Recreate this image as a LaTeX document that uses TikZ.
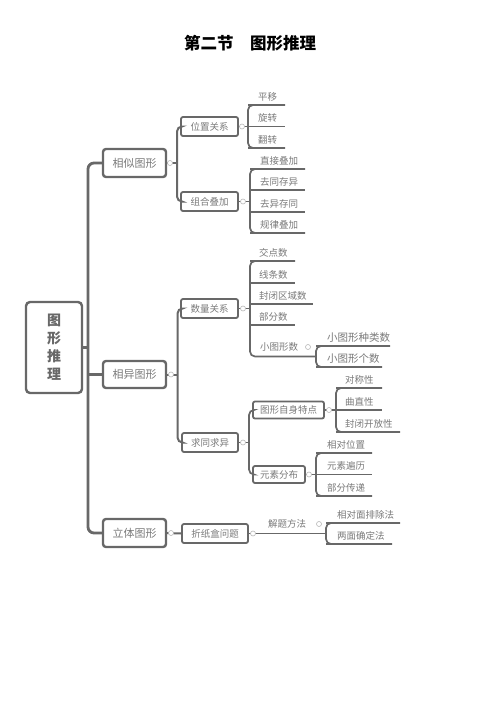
\documentclass[tikz,border=0pt]{standalone}
\usepackage{fontspec}
\setmainfont{Noto Sans CJK SC}
\definecolor{lc}{HTML}{686868}
\definecolor{tc}{HTML}{7A7A7A}
\definecolor{tg}{HTML}{B8B8B8}
\tikzset{
  trunk/.style={draw=lc, line width=2.8pt, rounded corners=6pt},
  br2/.style={draw=lc, line width=2pt, rounded corners=5pt},
  br3/.style={draw=lc, line width=1.7pt, rounded corners=5pt},
  uline/.style={draw=lc, line width=1.5pt},
  rootbox/.style={draw=lc, line width=2.4pt, rounded corners=4pt, fill=white, text=lc,
    minimum width=56pt, minimum height=91pt, inner sep=0pt, align=center,
    font=\fontsize{14}{18}\selectfont\bfseries},
  box1/.style={draw=lc, line width=2.4pt, rounded corners=3pt, fill=white, text=tc,
    minimum width=63pt, minimum height=28pt, inner sep=0pt, font=\fontsize{11}{12}\selectfont},
  box2/.style={draw=lc, line width=1.8pt, rounded corners=2pt, fill=white, text=tc,
    minimum height=19pt, inner sep=0pt, font=\fontsize{9.5}{10}\selectfont},
  leaf/.style={text=tc, anchor=west, inner sep=0pt, font=\fontsize{9.5}{10}\selectfont},
  bigleaf/.style={leaf, font=\fontsize{10.5}{11}\selectfont},
  tog/.style={circle, draw=tg, line width=0.6pt, fill=white, minimum size=5pt, inner sep=0pt},
}
% name, bracket x, y, end x, text x, text, style
\newcommand\mmleaf[7]{%
  \coordinate (#1s) at (#2,#3);
  \coordinate (#1e) at (#4,#3);
  \draw[uline] (#1s) -- (#1e);
  \node[#7] (#1) at (#5,#3-8.5) {#6};
}
\begin{document}
\begin{tikzpicture}[x=1pt,y=-1pt]
\useasboundingbox[fill=white] (0,0) rectangle (500,712);

% title
\node[text=black, font=\fontsize{16.5}{17}\selectfont\bfseries] (title) at (250,43) {第二节　图形推理};

% root and level 1
\node[rootbox] (root) at (54,347.5) {图\\形\\推\\理};
\node[box1] (sim) at (134.5,163) {相似图形};
\node[box1, minimum height=27pt] (dif) at (134.5,374.5) {相异图形};
\node[box1] (sol) at (134.5,533) {立体图形};

\coordinate (trk) at (88,347.5);
\draw[trunk] (root.east) -- (trk);
\draw[trunk] (sim.west) -| (trk) |- (sol.west);
\draw[trunk] (trk |- dif.west) -- (dif.west);

% level 2 boxes
\node[box2, minimum width=57pt] (pos) at (209.5,126.5) {位置关系};
\node[box2, minimum width=57pt] (zuh) at (209.5,201.5) {组合叠加};
\node[box2, minimum width=57pt] (shu) at (209.5,308.5) {数量关系};
\node[box2, minimum width=56pt] (qiu) at (210,442.5) {求同求异};
\node[box2, minimum width=71pt, minimum height=17pt] (zis) at (288.5,410) {图形自身特点};
\node[box2, minimum width=52pt, minimum height=17pt] (ysf) at (279,474.5) {元素分布};
\node[box2, minimum width=66pt] (zhe) at (215,533.5) {折纸盒问题};

% level 1 -> level 2
\coordinate (b1) at (177,163);
\coordinate (b2) at (177.5,374.5);
\draw[br2] (sim.east) -- (b1);
\draw[br2] (pos.west) -| (b1) |- (zuh.west);
\draw[br2] (dif.east) -- (b2);
\draw[br2] (shu.west) -| (b2) |- (qiu.west);
\draw[br2] (sol.east) -- (zhe.west);

% group A
\mmleaf{A1}{248}{105}{285}{258}{平移}{leaf}
\mmleaf{A2}{248}{126.5}{285}{258}{旋转}{leaf}
\mmleaf{A3}{248}{148}{285}{258}{翻转}{leaf}
\draw[br3] (A1e) -- (A1s) -- (A3s) -- (A3e);
\draw[br3] (pos.east) -- (A2s);

% group B
\mmleaf{B1}{250}{169}{305}{260}{直接叠加}{leaf}
\mmleaf{B2}{250}{190}{305}{260}{去同存异}{leaf}
\mmleaf{B3}{250}{212}{305}{260}{去异存同}{leaf}
\mmleaf{B4}{250}{233}{305}{260}{规律叠加}{leaf}
\draw[br3] (B1e) -- (B1s) -- (B4s) -- (B4e);
\draw[br3] (zuh.east) -- (zuh.east -| B1s);

% group C
\mmleaf{C1}{250}{261}{295}{259}{交点数}{leaf}
\mmleaf{C2}{250}{283}{295}{259}{线条数}{leaf}
\mmleaf{C3}{250}{304}{313}{259}{封闭区域数}{leaf}
\mmleaf{C4}{250}{325}{295}{259}{部分数}{leaf}
\coordinate (C5s) at (250,356.5);
\coordinate (C5e) at (316,356.5);
\node[leaf] (C5) at (260,347) {小图形数};
\draw[br3] (C1e) -- (C1s) -- (C5s) -- (C5e);
\draw[br3] (shu.east) -- (shu.east -| C1s);

% group D
\mmleaf{D1}{316}{346}{390}{327}{小图形种类数}{bigleaf}
\mmleaf{D2}{316}{367}{382}{327}{小图形个数}{bigleaf}
\draw[br3] (D1e) -- (D1s) -- (D2s) -- (D2e);

% group E
\coordinate (b3) at (249,442.5);
\draw[br3] (qiu.east) -- (b3);
\draw[br3] (zis.west) -| (b3) |- (ysf.west);

% group F
\mmleaf{F1}{336}{388}{382}{345}{对称性}{leaf}
\mmleaf{F2}{336}{410}{382}{345}{曲直性}{leaf}
\mmleaf{F3}{336}{432}{400}{345}{封闭开放性}{leaf}
\draw[br3] (F1e) -- (F1s) -- (F3s) -- (F3e);
\draw[br3] (zis.east) -- (F2s);

% group G
\mmleaf{G1}{316}{453}{372}{327}{相对位置}{leaf}
\mmleaf{G2}{316}{474.5}{372}{327}{元素遍历}{leaf}
\mmleaf{G3}{316}{496}{372}{327}{部分传递}{leaf}
\draw[br3] (G1e) -- (G1s) -- (G3s) -- (G3e);
\draw[br3] (ysf.east) -- (G2s);

% group H
\mmleaf{H1}{326}{523}{400}{337}{相对面排除法}{leaf}
\mmleaf{H2}{326}{544}{392}{337}{两面确定法}{leaf}
\draw[br3] (H1e) -- (H1s) -- (H2s) -- (H2e);
\node[leaf] (jie) at (268,524) {解题方法};
\draw[br3] (zhe.east) -- (zhe.east -| H1s);

% toggles
\node[tog] (tsim) at (170,163) {};
\node[tog] (tdif) at (171,374.5) {};
\node[tog] (tsol) at (171,533) {};
\node[tog] (tpos) at (242,126.5) {};
\node[tog] (tzuh) at (243,201.5) {};
\node[tog] (tshu) at (243,308.5) {};
\node[tog] (tqiu) at (243,442.5) {};
\node[tog] (tC5) at (308,347) {};
\node[tog] (tzis) at (329,410) {};
\node[tog] (tysf) at (309,474.5) {};
\node[tog] (tzhe) at (253,533.5) {};
\node[tog] (tjie) at (319,524) {};
\end{tikzpicture}
\end{document}
